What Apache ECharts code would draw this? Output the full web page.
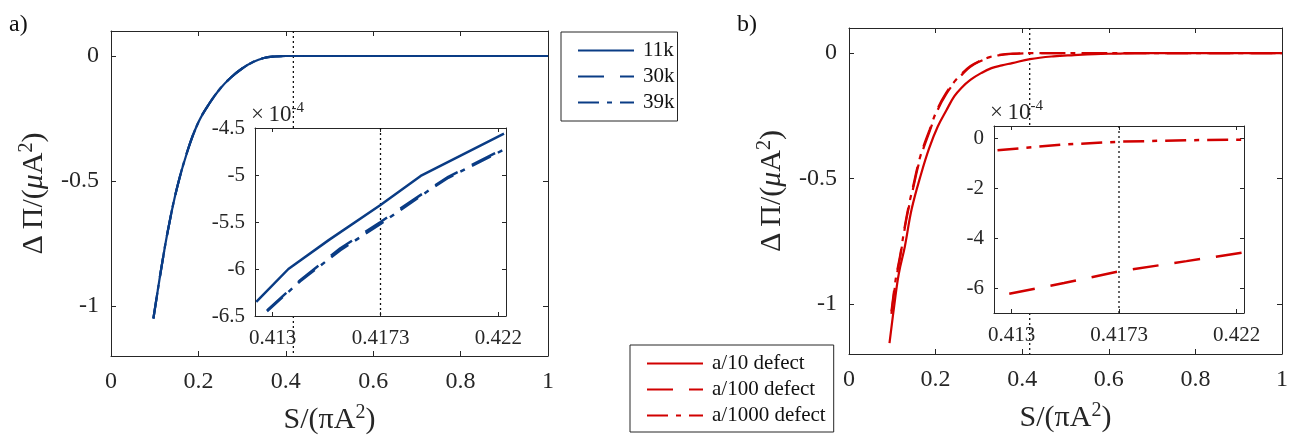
<!DOCTYPE html>
<html>
<head>
<meta charset="utf-8">
<script src="https://cdn.jsdelivr.net/npm/echarts@6/dist/echarts.min.js"></script>
<style>
  html, body { margin: 0; padding: 0; background: #fff; }
  #chart { width: 1291px; height: 440px; }
</style>
</head>
<body>
<div id="chart"></div>
<script>
// a) main curve, 11k / 30k / 39k lie on top of each other at this scale
const sA = [0.097, 0.105, 0.115, 0.13, 0.15, 0.175, 0.2, 0.225, 0.25, 0.275, 0.3, 0.325, 0.35, 0.375, 0.4, 0.5, 0.6, 0.7, 0.8, 0.9, 1.0]
const piA = [-1.05, -0.96, -0.85, -0.70, -0.535, -0.38, -0.265, -0.19, -0.13, -0.085, -0.05, -0.024, -0.008, -0.002, 0, 0, 0, 0, 0, 0, 0]

// a) inset, units of 1e-4
const sIn11k = [0.41235, 0.41363, 0.41525, 0.4173, 0.4189, 0.42222]
const piIn11k = [-6.35, -6.0, -5.69, -5.32, -5.01, -4.56]
const sIn30k = [0.41278, 0.4141, 0.4157, 0.4173, 0.4193, 0.4200, 0.42222]
const piIn30k = [-6.44, -6.12, -5.78, -5.50, -5.14, -5.02, -4.72]
const piIn39k = [-6.45, -6.13, -5.80, -5.52, -5.15, -5.03, -4.73]

// b) main curves
const sB10 = [0.0935, 0.105, 0.115, 0.129, 0.145, 0.167, 0.185, 0.205, 0.225, 0.243, 0.26, 0.281, 0.305, 0.329, 0.353, 0.377, 0.418, 0.472, 0.52, 0.568, 0.62, 0.66, 0.8, 1.0]
const piB10 = [-1.157, -1.0, -0.88, -0.771, -0.62, -0.479, -0.38, -0.293, -0.228, -0.173, -0.138, -0.106, -0.08, -0.06, -0.049, -0.04, -0.024, -0.013, -0.008, -0.004, -0.002, 0, 0, 0]
const sB1000 = [0.098, 0.108, 0.119, 0.132, 0.148, 0.165, 0.186, 0.205, 0.224, 0.243, 0.262, 0.28, 0.3, 0.325, 0.348, 0.38, 0.418, 0.5, 0.6, 0.8, 1.0]
const piB100 = [-1.04, -0.91, -0.805, -0.668, -0.54, -0.418, -0.313, -0.226, -0.165, -0.12, -0.084, -0.055, -0.035, -0.018, -0.008, -0.003, -0.0005, 0, 0, 0, 0]
const piB1000 = [-1.03, -0.90, -0.798, -0.66, -0.532, -0.41, -0.306, -0.22, -0.16, -0.115, -0.08, -0.052, -0.033, -0.016, -0.007, -0.002, 0, 0, 0, 0, 0]

// b) inset, units of 1e-4
const sIn100 = [0.41291, 0.4151, 0.4173, 0.4200, 0.42229]
const piIn100 = [-6.23, -5.8, -5.33, -4.92, -4.57]
const sIn1000 = [0.41244, 0.4150, 0.4173, 0.4200, 0.42229]
const piIn1000 = [-0.47, -0.25, -0.13, -0.07, -0.05]

const sMark = 0.4173
const mainTicksX = [0, 0.2, 0.4, 0.6, 0.8, 1]
const mainTicksY = [-1, -0.5, 0]
const inTicksX = [0.413, 0.4173, 0.422]
const inTicksYa = [-6.5, -6, -5.5, -5, -4.5]
const inTicksYb = [-6, -4, -2, 0]

const FONT = '"Liberation Serif", "Times New Roman", serif'
const INK = '#262626'
const BLUE = '#0a3c85'
const RED = '#d10000'
const DASH = [26, 16]
const DASHDOT = [21, 8, 5, 8]

const xName = '{t|S/(\u03c0A}{s|2}{t|)}'
const yName = '{t|\u0394\u2009\u03a0/(}{i|\u03bc}{t|A}{s|2}{t|)}'
const expName = '{t|\u00d7\u200910}{s|-4}'
const nameRich = {
  t: {fontFamily: FONT, fontSize: 30, color: INK, lineHeight: 34},
  i: {fontFamily: FONT, fontSize: 30, fontStyle: 'italic', color: INK, lineHeight: 34},
  s: {fontFamily: FONT, fontSize: 20, color: INK, lineHeight: 20, verticalAlign: 'top'}
}
const expRich = {
  t: {fontFamily: FONT, fontSize: 23, color: INK, lineHeight: 27},
  s: {fontFamily: FONT, fontSize: 15, color: INK, lineHeight: 15, verticalAlign: 'top'}
}

function axisPair (dim, gridIndex, min, max, ticks, opt) {
  const base = {
    type: 'value',
    gridIndex,
    min,
    max,
    z: opt.z || 0,
    splitLine: {show: false},
    axisLine: {show: true, onZero: false, lineStyle: {color: INK, width: 1}},
    axisTick: {show: true, inside: true, length: opt.tick, customValues: ticks, lineStyle: {color: INK}}
  }
  const first = {
    ...base,
    position: dim === 'x' ? 'bottom' : 'left',
    axisLabel: {
      customValues: ticks,
      color: INK,
      fontFamily: FONT,
      fontSize: opt.font,
      margin: opt.margin,
      formatter: v => String(v)
    }
  }
  if (opt.name) {
    Object.assign(first, opt.name)
  }
  const second = {...base, position: dim === 'x' ? 'top' : 'right', axisLabel: {show: false}}
  return [first, second]
}

const mainX = {font: 24, margin: 14, tick: 5}
const mainY = {font: 24, margin: 12, tick: 5}
const inX = {font: 21, margin: 12, tick: 4, z: 4}
const inY = {font: 21, margin: 10, tick: 4, z: 4}

const xTitle = {name: xName, nameLocation: 'middle', nameGap: 47, nameTextStyle: {rich: nameRich}}
const yTitle = {name: yName, nameLocation: 'middle', nameGap: 60, nameTextStyle: {rich: nameRich}}
const expTitle = {name: expName, nameLocation: 'end', nameGap: 0, nameTextStyle: {rich: expRich, align: 'left', verticalAlign: 'bottom', padding: [0, 0, 0, -4]}}

const xAxis = [
  ...axisPair('x', 0, 0, 1, mainTicksX, {...mainX, name: xTitle}),
  ...axisPair('x', 1, 0.4123, 0.4223, inTicksX, inX),
  ...axisPair('x', 2, 0, 1, mainTicksX, {...mainX, name: xTitle}),
  ...axisPair('x', 3, 0.4123, 0.4223, inTicksX, inX)
]
const yAxis = [
  ...axisPair('y', 0, -1.2, 0.1, mainTicksY, {...mainY, name: yTitle}),
  ...axisPair('y', 1, -6.5, -4.5, inTicksYa, {...inY, name: expTitle}),
  ...axisPair('y', 2, -1.2, 0.1, mainTicksY, {...mainY, name: yTitle}),
  ...axisPair('y', 3, -7, 0.5, inTicksYb, {...inY, name: expTitle})
]

const zip = (xs, ys) => xs.map((x, i) => [x, ys[i]])

function curve (name, xs, ys, color, type, axis, inset) {
  return {
    type: 'line',
    name,
    xAxisIndex: axis,
    yAxisIndex: axis,
    data: zip(xs, ys),
    symbol: 'none',
    smooth: inset ? false : 0.4,
    z: inset ? 5 : 2,
    lineStyle: {color, width: inset ? 2.5 : 2.2, type},
    itemStyle: {color}
  }
}

function marker (axis, lo, hi, z) {
  return {
    type: 'line',
    xAxisIndex: axis,
    yAxisIndex: axis,
    data: [[sMark, hi], [sMark, lo]],
    symbol: 'none',
    z,
    silent: true,
    lineStyle: {color: '#111', width: 1.3, type: [2, 3]}
  }
}

const legendBase = {
  orient: 'vertical',
  itemWidth: 56,
  itemHeight: 2,
  itemGap: 5,
  borderColor: INK,
  borderWidth: 1,
  backgroundColor: '#fff',
  selectedMode: false,
  itemStyle: {opacity: 0},
  textStyle: {fontFamily: FONT, fontSize: 21, color: '#111', padding: [0, 0, 0, 4]}
}

const chart = echarts.init(document.getElementById('chart'), null, {renderer: 'canvas'})
chart.setOption({
  animation: false,
  backgroundColor: '#fff',
  title: [
    {text: 'a)', left: 9, top: 13, padding: 0, textStyle: {fontFamily: FONT, fontSize: 24, fontWeight: 'normal', color: '#111'}},
    {text: 'b)', left: 737, top: 13, padding: 0, textStyle: {fontFamily: FONT, fontSize: 24, fontWeight: 'normal', color: '#111'}}
  ],
  grid: [
    {left: 111, top: 31, width: 437, height: 326},
    {left: 255, top: 128, width: 251, height: 188, show: true, backgroundColor: '#fff', borderWidth: 0, z: 3},
    {left: 849, top: 28, width: 435, height: 326},
    {left: 994, top: 126, width: 250, height: 187, show: true, backgroundColor: '#fff', borderWidth: 0, z: 3}
  ],
  legend: [
    {...legendBase, data: ['11k', '30k', '39k'], left: 561, top: 32, padding: [8, 3, 8, 16]},
    {...legendBase, data: ['a/10 defect', 'a/100 defect', 'a/1000 defect'], left: 630, top: 345, padding: [8, 8, 6, 16]}
  ],
  xAxis,
  yAxis,
  series: [
    marker(0, -1.2, 0.1, 1),
    curve('11k', sA, piA, BLUE, 'solid', 0),
    curve('30k', sA, piA, BLUE, DASH, 0),
    curve('39k', sA, piA, BLUE, DASHDOT, 0),
    marker(2, -6.5, -4.5, 5),
    curve('11k', sIn11k, piIn11k, BLUE, 'solid', 2, true),
    curve('30k', sIn30k, piIn30k, BLUE, DASH, 2, true),
    curve('39k', sIn30k, piIn39k, BLUE, DASHDOT, 2, true),
    marker(4, -1.2, 0.1, 1),
    curve('a/10 defect', sB10, piB10, RED, 'solid', 4),
    curve('a/100 defect', sB1000, piB100, RED, DASH, 4),
    curve('a/1000 defect', sB1000, piB1000, RED, DASHDOT, 4),
    marker(6, -7, 0.5, 5),
    curve('a/100 defect', sIn100, piIn100, RED, DASH, 6, true),
    curve('a/1000 defect', sIn1000, piIn1000, RED, DASHDOT, 6, true)
  ]
})
</script>
</body>
</html>
